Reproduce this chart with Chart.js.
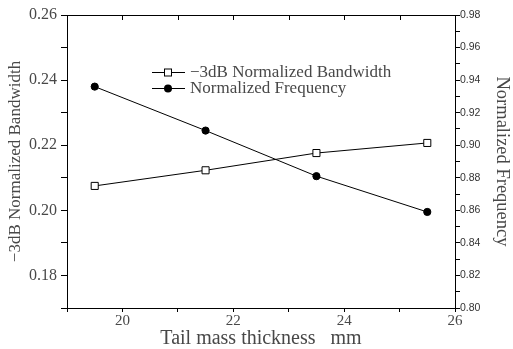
<!DOCTYPE html>
<html>
<head>
<meta charset="utf-8">
<script src="https://cdn.jsdelivr.net/npm/chart.js@4"></script>
<style>
  html, body { margin: 0; padding: 0; background: #fff; }
  #wrap { width: 513px; height: 349px; }
</style>
</head>
<body>
<div id="wrap"><canvas id="myChart" width="513" height="349"></canvas></div>
<script>
// values
var thickness = [19.5, 21.5, 23.5, 25.5];
var bandwidth = [0.2075, 0.2123, 0.2176, 0.2207];
var frequency = [0.936, 0.909, 0.881, 0.859];
var seriesNames = ['\u22123dB Normalized Bandwidth', 'Normalized Frequency'];

var serif = 'Liberation Serif';
var textColor = '#484848';

function pairs(ys) {
    return thickness.map(function(x, i) { return { x: x, y: ys[i] }; });
}

// legend drawn inside the plot, like the original
var insideLegend = {
    id: 'insideLegend',
    afterDraw: function(chart) {
        var c = chart.ctx;
        var rows = [
            { y: 72.5, square: true },
            { y: 88.5, square: false }
        ];
        c.save();
        c.strokeStyle = '#000';
        c.lineWidth = 1;
        rows.forEach(function(r, i) {
            c.beginPath();
            c.moveTo(152, r.y);
            c.lineTo(185, r.y);
            c.stroke();
            if (r.square) {
                c.fillStyle = '#fff';
                c.fillRect(164.5, r.y - 3.5, 7, 7);
                c.strokeRect(164.5, r.y - 3.5, 7, 7);
            } else {
                c.fillStyle = '#000';
                c.beginPath();
                c.arc(168, r.y, 4, 0, Math.PI * 2);
                c.fill();
            }
            c.fillStyle = textColor;
            c.font = '17px "' + serif + '"';
            c.textBaseline = 'middle';
            c.fillText(seriesNames[i], 190, r.y);
        });

        // inward ticks on the top frame
        var xs = chart.scales.x;
        var top = chart.chartArea.top;
        for (var v = 20; v <= 25; v++) {
            var px = Math.round(xs.getPixelForValue(v)) + 0.5;
            c.beginPath();
            c.moveTo(px, top);
            c.lineTo(px, top + 5);
            c.stroke();
        }
        c.restore();
    }
};

var ctx = document.getElementById('myChart').getContext('2d');

var myChart = new Chart(ctx, {
    type: 'line',
    data: {
        datasets: [{
            label: seriesNames[0],
            data: pairs(bandwidth),
            yAxisID: 'y',
            borderColor: '#000',
            borderWidth: 1,
            pointStyle: 'rect',
            pointRadius: 5,
            pointBackgroundColor: '#fff',
            pointBorderColor: '#000',
            pointBorderWidth: 1
        },
        {
            label: seriesNames[1],
            data: pairs(frequency),
            yAxisID: 'y1',
            borderColor: '#000',
            borderWidth: 1,
            pointStyle: 'circle',
            pointRadius: 3.6,
            pointBackgroundColor: '#000',
            pointBorderColor: '#000',
            pointBorderWidth: 1
        }]
    },
    options: {
        responsive: false,
        animation: false,
        layout: { padding: 0 },
        plugins: {
            legend: { display: false },
            tooltip: { enabled: false }
        },
        scales: {
            x: {
                type: 'linear',
                position: 'bottom',
                min: 19,
                max: 26,
                afterFit: function(s) { s.height = 41; },
                ticks: {
                    stepSize: 1,
                    color: textColor,
                    font: { family: serif, size: 15, lineHeight: 1 },
                    padding: 2,
                    maxRotation: 0,
                    callback: function(v) { return v % 2 === 0 ? v : ''; }
                },
                grid: { drawOnChartArea: false, color: '#000', tickLength: 4 },
                border: { color: '#000', width: 1 },
                title: {
                    display: true,
                    text: 'Tail mass thickness   mm',
                    color: textColor,
                    font: { family: serif, size: 20, lineHeight: 1 },
                    padding: 0
                }
            },
            xTop: {
                type: 'linear',
                position: 'top',
                min: 19,
                max: 26,
                afterFit: function(s) { s.height = 15; },
                ticks: { display: false },
                grid: { display: false },
                border: { color: '#000', width: 1 }
            },
            y: {
                position: 'left',
                min: 0.17,
                max: 0.26,
                afterFit: function(s) { s.width = 67; },
                ticks: {
                    stepSize: 0.01,
                    color: textColor,
                    font: { family: serif, size: 16 },
                    padding: 4,
                    callback: function(v) {
                        var n = Math.round(v * 100);
                        return n % 2 === 0 ? (n / 100).toFixed(2) : '';
                    }
                },
                grid: { drawOnChartArea: false, color: '#000', tickLength: 6 },
                border: { color: '#000', width: 1 },
                title: {
                    display: true,
                    text: seriesNames[0],
                    color: textColor,
                    font: { family: serif, size: 17 },
                    padding: { top: 5, bottom: 0 }
                }
            },
            y1: {
                position: 'right',
                min: 0.80,
                max: 0.98,
                afterFit: function(s) { s.width = 58; },
                ticks: {
                    stepSize: 0.01,
                    color: '#333',
                    font: { family: 'Liberation Sans', size: 10.5 },
                    padding: 0,
                    callback: function(v) {
                        var n = Math.round(v * 100);
                        return n % 2 === 0 ? (n / 100).toFixed(2) : '';
                    }
                },
                grid: { drawOnChartArea: false, color: '#000', tickLength: 5 },
                border: { color: '#000', width: 1 },
                title: {
                    display: true,
                    text: seriesNames[1],
                    color: textColor,
                    font: { family: serif, size: 18.5 },
                    padding: 0
                }
            }
        }
    },
    plugins: [insideLegend]
});
</script>
</body>
</html>
